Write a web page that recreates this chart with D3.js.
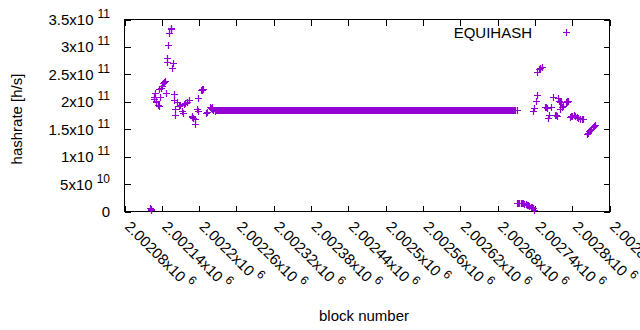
<!DOCTYPE html>
<html>
<head>
<meta charset="utf-8">
<script src="https://cdn.jsdelivr.net/npm/d3@7"></script>
<style>
  html, body { margin: 0; padding: 0; background: #fff; }
  svg { display: block; font-family: "Liberation Sans", Arial, sans-serif; }
</style>
</head>
<body>
<svg id="chart" width="640" height="330"></svg>
<script>
// ---- data ----
const scatterBlocks = [
  2002121, 2002122, 2002123,
  2002127, 2002128, 2002129, 2002130, 2002131, 2002134, 2002135, 2002136, 2002137, 2002139,
  2002141, 2002142, 2002143, 2002145, 2002146, 2002148, 2002149, 2002150, 2002151, 2002154,
  2002155, 2002156, 2002158, 2002159, 2002160, 2002161, 2002162, 2002165, 2002167, 2002170,
  2002173, 2002174, 2002175, 2002177, 2002180, 2002181, 2002183, 2002188, 2002189, 2002190,
  2002193, 2002194, 2002197, 2002198, 2002199, 2002203, 2002204, 2002205, 2002206, 2002211,
  2002213, 2002218, 2002219, 2002220, 2002221, 2002223, 2002225,
  2002711, 2002713, 2002715, 2002717, 2002719, 2002721, 2002723, 2002725, 2002727, 2002729,
  2002731, 2002733, 2002735, 2002737, 2002738,
  2002712, 2002737, 2002738, 2002741, 2002743, 2002744, 2002746, 2002748, 2002749, 2002751,
  2002757, 2002758, 2002759, 2002761, 2002762, 2002766, 2002769, 2002773, 2002774, 2002775,
  2002777, 2002778, 2002780, 2002781, 2002782, 2002784, 2002786, 2002790, 2002791, 2002792,
  2002793, 2002797, 2002798, 2002800, 2002803, 2002805, 2002807, 2002810, 2002813, 2002815,
  2002817, 2002824, 2002825, 2002827, 2002829, 2002831, 2002833, 2002835, 2002836
];
const scatterHashrates = [
  5.5e9, 4.5e9, 3.5e9,
  2.084e11, 2.05e11, 2.157e11, 2.023e11, 1.99e11, 1.941e11, 1.915e11, 2.233e11, 2.084e11, 2.26e11,
  2.279e11, 2.339e11, 2.36e11, 2.379e11, 2.16e11, 2.80e11, 2.734e11, 3.04e11, 3.258e11, 3.354e11,
  3.33e11, 2.616e11, 2.71e11, 2.133e11, 2.036e11, 1.768e11, 1.872e11, 1.992e11, 1.932e11, 1.95e11,
  1.841e11, 1.792e11, 1.963e11, 1.97e11, 1.992e11, 2.0e11, 2.036e11, 1.732e11, 1.72e11, 1.71e11,
  1.69e11, 1.599e11, 1.872e11, 1.823e11, 2.073e11, 2.21e11, 2.218e11, 2.233e11, 2.225e11, 1.80e11,
  1.81e11, 1.914e11, 1.89e11, 1.896e11, 1.868e11, 1.85e11, 1.823e11,
  1.6e10, 1.6e10, 1.58e10, 1.56e10, 1.52e10, 1.48e10, 1.42e10, 1.35e10, 1.27e10, 1.17e10,
  1.05e10, 9.1e9, 7.5e9, 5.5e9, 3e9,
  1.859e11, 1.828e11, 1.890e11, 2.023e11, 2.12e11, 2.539e11, 2.589e11, 2.61e11, 2.625e11, 2.643e11,
  1.90e11, 1.896e11, 1.887e11, 1.708e11, 1.768e11, 1.914e11, 2.084e11, 1.76e11, 1.768e11, 1.75e11,
  2.069e11, 2.023e11, 1.99e11, 1.872e11, 1.992e11, 1.901e11, 1.92e11, 1.992e11, 2.0e11, 2.023e11,
  2.02e11, 1.719e11, 1.74e11, 1.75e11, 1.76e11, 1.74e11, 1.719e11, 1.704e11, 1.69e11, 1.69e11,
  1.69e11, 1.413e11, 1.44e11, 1.467e11, 1.49e11, 1.508e11, 1.54e11, 1.56e11, 1.568e11
];
// constant plateau: every block in this range has the same hashrate
const plateauBlocks = [2002226, 2002708];
const plateauHashrate = 1.853e11;

const xTickValues = [2002080, 2002140, 2002200, 2002260, 2002320, 2002380, 2002440,
                     2002500, 2002560, 2002620, 2002680, 2002740, 2002800, 2002860];
const xTickLabels = ["2.00208x10^6", "2.00214x10^6", "2.0022x10^6", "2.00226x10^6",
                     "2.00232x10^6", "2.00238x10^6", "2.00244x10^6", "2.0025x10^6",
                     "2.00256x10^6", "2.00262x10^6", "2.00268x10^6", "2.00274x10^6",
                     "2.0028x10^6", "2.00286x10^6"];
const yTickValues = [0, 5e10, 1e11, 1.5e11, 2e11, 2.5e11, 3e11, 3.5e11];
const yTickLabels = ["0", "5x10^10", "1x10^11", "1.5x10^11", "2x10^11",
                     "2.5x10^11", "3x10^11", "3.5x10^11"];
const seriesName = "EQUIHASH";
const xTitle = "block number";
const yTitle = "hashrate [h/s]";

// ---- build points ----
const points = scatterBlocks.map((b, i) => ({ block: b, rate: scatterHashrates[i] }));
d3.range(plateauBlocks[0], plateauBlocks[1] + 1).forEach(b => points.push({ block: b, rate: plateauHashrate }));

// ---- layout ----
const L = 124.5, R = 609.5, T = 19.5, B = 211.5;
const color = "#9400D3";
const svg = d3.select("#chart");

const x = d3.scaleLinear().domain([2002080, 2002860]).range([L, R]);
const y = d3.scaleLinear().domain([0, 3.5e11]).range([B, T]);

function addSupText(sel, label, supSize, supDy, gap) {
  const parts = label.split("^");
  sel.append("tspan").text(parts[0]);
  if (parts[1] !== undefined) {
    sel.append("tspan").attr("dx", gap).attr("dy", supDy).attr("font-size", supSize).text(parts[1]);
  }
}

// ticks (inside, mirrored)
const tickLen = 6;
const axes = svg.append("g").attr("stroke", "#000").attr("stroke-width", 1).attr("shape-rendering", "crispEdges");
xTickValues.forEach(v => {
  const px = Math.round(x(v)) + 0.5;
  axes.append("line").attr("x1", px).attr("x2", px).attr("y1", B).attr("y2", B - tickLen);
  axes.append("line").attr("x1", px).attr("x2", px).attr("y1", T).attr("y2", T + tickLen);
});
yTickValues.forEach(v => {
  const py = Math.round(y(v)) + 0.5;
  axes.append("line").attr("x1", L).attr("x2", L + tickLen).attr("y1", py).attr("y2", py);
  axes.append("line").attr("x1", R).attr("x2", R - tickLen).attr("y1", py).attr("y2", py);
});

// y tick labels
yTickValues.forEach((v, i) => {
  const t = svg.append("text")
    .attr("x", 110).attr("y", y(v) + 5.5)
    .attr("text-anchor", "end").attr("font-size", 15).attr("fill", "#000");
  addSupText(t, yTickLabels[i], 12, -7, 4);
});

// x tick labels rotated
xTickValues.forEach((v, i) => {
  const g = svg.append("g").attr("transform", `translate(${x(v) - 0.5},${227.5}) rotate(45)`);
  const t = g.append("text").attr("x", 0).attr("y", 0)
    .attr("text-anchor", "start").attr("font-size", 15).attr("fill", "#000");
  addSupText(t, xTickLabels[i], 12, -7, 4);
});

// frame
axes.append("rect").attr("x", L).attr("y", T).attr("width", R - L).attr("height", B - T).attr("fill", "none");

// titles
svg.append("text").attr("transform", "translate(22,119) rotate(-90)")
  .attr("text-anchor", "middle").attr("font-size", 15).text(yTitle);
svg.append("text").attr("x", 364).attr("y", 321)
  .attr("text-anchor", "middle").attr("font-size", 15).text(xTitle);

// plus markers
const plus = "M-3.5,0H3.5M0,-3.5V3.5";
svg.append("g").selectAll("path").data(points).join("path")
  .attr("transform", d => `translate(${Math.round(x(d.block)) + 0.5},${Math.round(y(d.rate)) + 0.5})`)
  .attr("d", plus).attr("stroke", color).attr("stroke-width", 1.2).attr("fill", "none");

// legend
svg.append("text").attr("x", 532).attr("y", 37.5).attr("text-anchor", "end")
  .attr("font-size", 15).text(seriesName);
svg.append("path").attr("transform", "translate(566.5,32.5)").attr("d", plus)
  .attr("stroke", color).attr("stroke-width", 1.2).attr("fill", "none");
</script>
</body>
</html>
